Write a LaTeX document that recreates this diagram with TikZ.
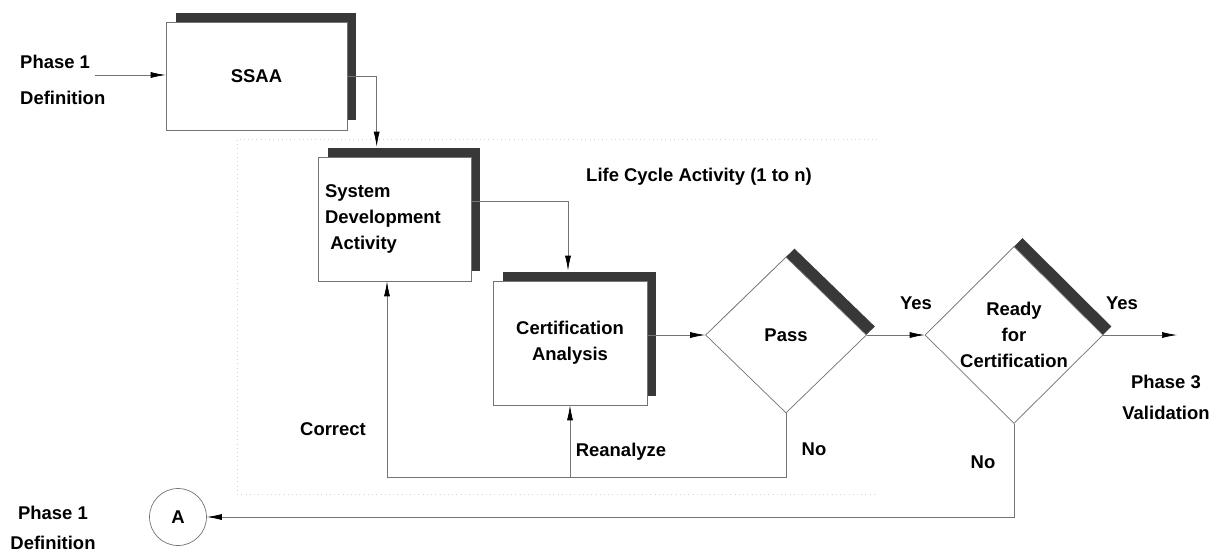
\documentclass[tikz,border=0pt]{standalone}
\usepackage{fontspec}
\setmainfont{Liberation Sans}
\usetikzlibrary{shapes.geometric}
\usetikzlibrary{shadows}
\usetikzlibrary{arrows.meta}
\usetikzlibrary{calc}
\def\lcframe{(877,139) -- (237,139) -- (237,494) -- (877,494)}

\begin{document}
\begin{tikzpicture}[x=0.02cm,y=-0.02cm,
  txt/.style={font=\fontsize{10.5}{15}\selectfont\bfseries},
  boxnode/.style={txt,draw=black!55,line width=0.4pt,fill=white,
    general shadow={fill=black!78,shadow xshift=0.19cm,shadow yshift=0.19cm}},
  decision/.style={txt,diamond,draw=black!55,line width=0.4pt,fill=white,inner sep=0pt,
    general shadow={fill=black!78,shadow xshift=0.17cm,shadow yshift=0.17cm}},
  flow/.style={draw=black!55,line width=0.4pt,-{Latex[length=3mm,width=1.2mm,color=black]}}]
   \useasboundingbox (0,0) rectangle (1223,552);
      \draw[black!18,dotted] \lcframe;
  \node[boxnode,minimum width=3.62cm,minimum height=2.16cm] (ssaa) at (256.5,76) {SSAA};
  \node[boxnode,minimum width=3.06cm,minimum height=2.48cm,text width=2.78cm,align=left] (sda) at (394.5,219) {System\\Development\\\hspace*{3pt}Activity};
    \node[boxnode,minimum width=3.08cm,minimum height=2.48cm,align=center] (ca) at (570,343) {Certification\\Analysis};
  \node[decision,minimum width=3.22cm,minimum height=3.12cm] (pass) at (786,335) {Pass};
    \node[decision,minimum width=3.56cm,minimum height=3.54cm,align=center] (ready) at (1014,335) {Ready\\for\\Certification};
  \node[txt,draw=black!55,circle,minimum size=1.14cm,inner sep=0pt] (a) at (178,517) {A};
  \node[txt,align=left,anchor=west] (ph1in) at (14,80) {Phase 1\\[5.4pt]Definition};
      \node[txt,align=center] (ph1out) at (53,528) {Phase 1\\[2pt]Definition};
  \node[txt,align=center] (ph3) at (1166,397) {Phase 3\\[2.6pt]Validation};
  \node[txt] (lca) at (699,177) {Life Cycle Activity (1 to n)};
    \node[txt] (yes1) at (916,303) {Yes};
    \node[txt] (yes2) at (1122,303) {Yes};
    \node[txt] (no1) at (814,449) {No};
    \node[txt] (no2) at (983,462) {No};
  \node[txt] (correct) at (333,429) {Correct};
  \node[txt] (reanalyze) at (621,452) {Reanalyze};
   \coordinate (in1) at (95,75);
   \coordinate (out3) at (1177,335);
   \coordinate (fbl) at (387,477);
  \draw[flow] (in1) -- (in1 -| ssaa.west);
  \draw[flow] (ssaa.east) -| ($(sda.north west)+(59,-10)$);
  \draw[flow] ($(sda.east)+(0,-18)$) -| ($(ca.north)+(-2,-10)$);
    \draw[flow] (ca.east |- pass.west) -- (pass.west);
    \draw[flow] (pass.east) -- (ready.west);
    \draw[flow] (ready.east) -- (out3);
  \draw[flow] (pass.south) |- (fbl) -- (fbl |- sda.south);
  \draw[flow] (ca.south |- fbl) -- (ca.south);
  \draw[flow] (ready.south) |- (a.east);
\end{tikzpicture}
\end{document}
